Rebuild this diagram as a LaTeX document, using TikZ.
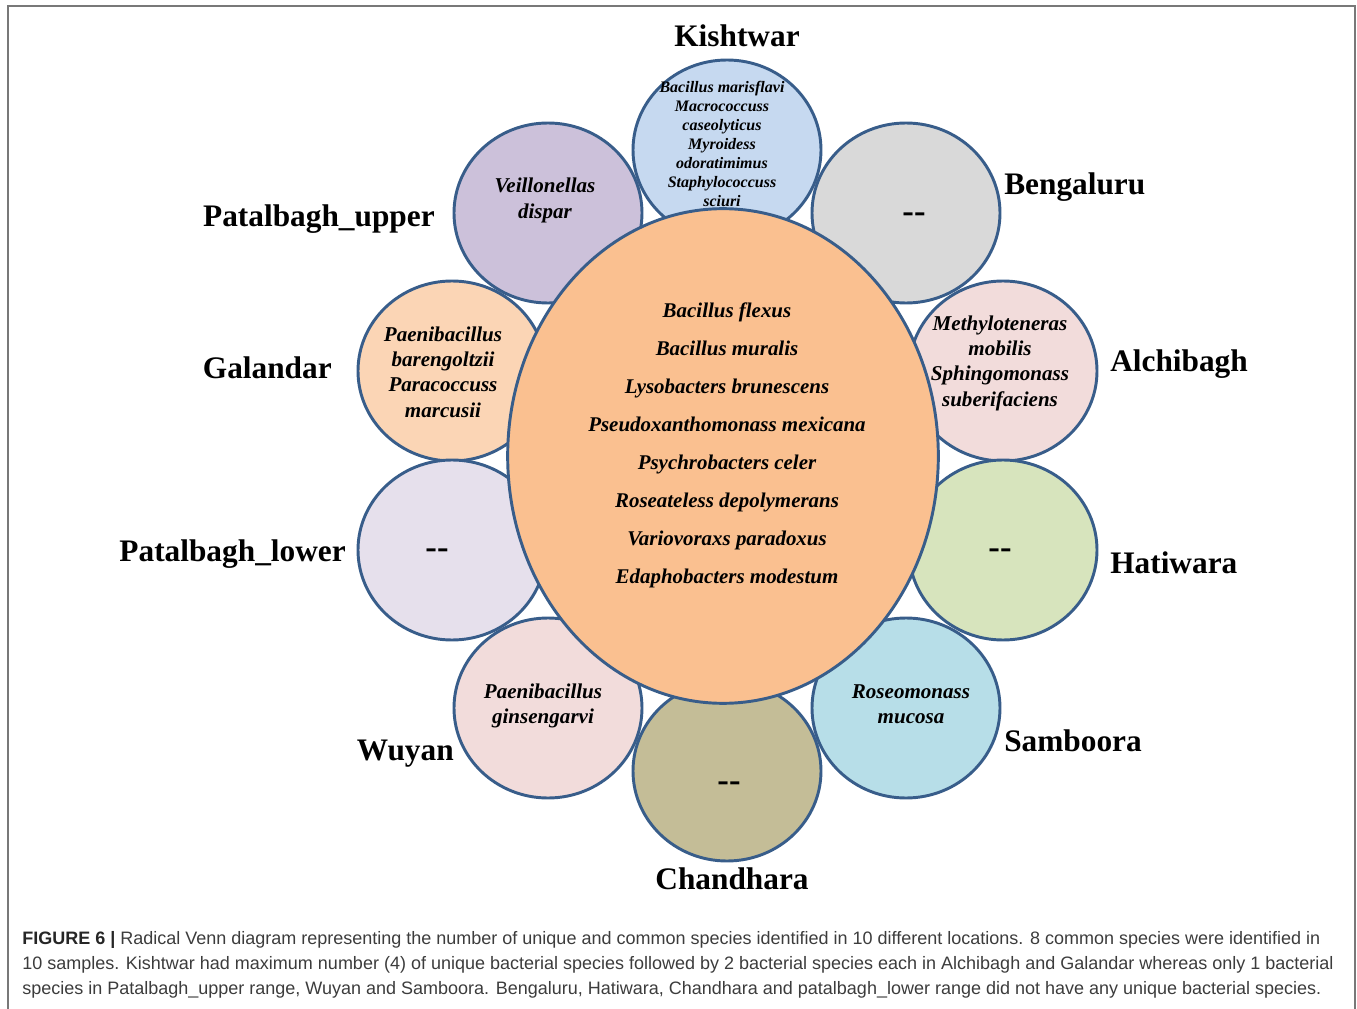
\documentclass[tikz,border=0pt]{standalone}
\usepackage{fontspec}
\setmainfont{Liberation Serif}
\newfontfamily\capfont{Liberation Sans}
\usetikzlibrary{shapes.geometric}
\definecolor{edge}{RGB}{56,93,138}
\definecolor{cKish}{RGB}{198,217,240}
\definecolor{cBeng}{RGB}{217,217,217}
\definecolor{cAlch}{RGB}{242,220,219}
\definecolor{cHati}{RGB}{215,228,189}
\definecolor{cSamb}{RGB}{183,222,232}
\definecolor{cChan}{RGB}{196,189,151}
\definecolor{cWuya}{RGB}{242,220,219}
\definecolor{cPlow}{RGB}{230,224,236}
\definecolor{cGala}{RGB}{251,213,181}
\definecolor{cPupp}{RGB}{204,193,218}
\definecolor{cCent}{RGB}{250,192,144}
\definecolor{capgray}{RGB}{60,60,60}
\definecolor{framegray}{RGB}{120,120,120}
\tikzset{
  petal/.style={ellipse, draw=edge, line width=2.2pt, minimum width=141pt, minimum height=135pt, inner sep=0pt},
  loclabel/.style={font=\bfseries\fontsize{23.5}{27}\selectfont, inner sep=0pt},
  species/.style={font=\bfseries\itshape\fontsize{15.8}{19}\selectfont, align=center, inner sep=0pt},
  smallsp/.style={font=\bfseries\itshape\fontsize{12}{14.25}\selectfont, align=center, inner sep=0pt},
  centsp/.style={font=\bfseries\itshape\fontsize{15.7}{28.5}\selectfont, align=center, inner sep=0pt},
  nodash/.style={font=\bfseries\fontsize{26}{28}\selectfont, inner sep=0pt},
  capline/.style={font=\capfont\fontsize{13.5}{16}\selectfont, text=capgray, anchor=west, inner sep=0pt}
}
\begin{document}
\begin{tikzpicture}[x=0.75pt,y=-0.75pt]
\useasboundingbox (0,0) rectangle (1357,1009);
% frame
\coordinate (fbl) at (8,1009);
\coordinate (ftl) at (8,6);
\coordinate (ftr) at (1355,6);
\coordinate (fbr) at (1355,1009);
\draw[framegray, line width=1.5pt] (fbl) -- (ftl) -- (ftr) -- (fbr);
% petals
\node[petal, fill=cGala] (gala) at (452,371) {};
\node[petal, fill=cAlch] (alch) at (1003,371) {};
\node[petal, fill=cPlow] (plow) at (452,550) {};
\node[petal, fill=cHati] (hati) at (1003,550) {};
\node[petal, fill=cWuya] (wuya) at (548,708) {};
\node[petal, fill=cSamb] (samb) at (906,708) {};
\node[petal, fill=cPupp] (pupp) at (548,213) {};
\node[petal, fill=cBeng] (beng) at (906,213) {};
\node[petal, fill=cKish] (kish) at (727,150) {};
\node[petal, fill=cChan] (chan) at (727,771) {};
\node[ellipse, draw=edge, line width=2.2pt, fill=cCent, minimum width=323pt, minimum height=371pt, inner sep=0pt] (cent) at (723,456) {};
% species texts
\node[smallsp] (tkish) at (722,144) {Bacillus marisflavi\\Macrococcuss\\caseolyticus\\Myroidess\\odoratimimus\\Staphylococcuss\\sciuri};
\node[species] (tpupp) at (545,200.5) {Veillonellas\\dispar};
\node[species] (tgala) at (443,372) {Paenibacillus\\barengoltzii\\Paracoccuss\\marcusii};
\node[species] (talch) at (1000,363) {Methyloteneras\\mobilis\\Sphingomonass\\suberifaciens};
\node[species] (twuya) at (543,706) {Paenibacillus\\ginsengarvi};
\node[species] (tsamb) at (911,704) {Roseomonass\\mucosa};
\node[nodash] (tbeng) at (914,218) {-{}-};
\node[nodash] (tplow) at (437,554) {-{}-};
\node[nodash] (thati) at (1000,554) {-{}-};
\node[nodash] (tchan) at (729,787) {-{}-};
\node[centsp] (tcent) at (727,445) {Bacillus flexus\\Bacillus muralis\\Lysobacters brunescens\\Pseudoxanthomonass mexicana\\Psychrobacters celer\\Roseateless depolymerans\\Variovoraxs paradoxus\\Edaphobacters modestum};
% location labels
\node[loclabel] (lkish) at (737,36) {Kishtwar};
\node[loclabel, anchor=west] (lbeng) at (1004,187) {Bengaluru};
\node[loclabel, anchor=west] (lalch) at (1110,364) {Alchibagh};
\node[loclabel, anchor=west] (lhati) at (1110,563) {Hatiwara};
\node[loclabel, anchor=west] (lsamb) at (1004,741) {Samboora};
\node[loclabel] (lchan) at (732,879) {Chandhara};
\node[loclabel, anchor=east] (lwuya) at (454,754) {Wuyan};
\node[loclabel, anchor=east] (lplow) at (346,554) {Patalbagh\_lower};
\node[loclabel, anchor=east] (lgala) at (332,368) {Galandar};
\node[loclabel, anchor=east] (lpupp) at (435,219) {Patalbagh\_upper};
% caption
\node[capline] (cap1) at (22,939.5) {{\bfseries\color{black!85}FIGURE 6 |} Radical Venn diagram representing the number of unique and common species identified in 10 different locations. 8 common species were identified in};
\node[capline] (cap2) at (22,964.5) {10 samples. Kishtwar had maximum number (4) of unique bacterial species followed by 2 bacterial species each in Alchibagh and Galandar whereas only 1 bacterial};
\node[capline] (cap3) at (22,989.5) {species in Patalbagh\_upper range, Wuyan and Samboora. Bengaluru, Hatiwara, Chandhara and patalbagh\_lower range did not have any unique bacterial species.};
\end{tikzpicture}
\end{document}
